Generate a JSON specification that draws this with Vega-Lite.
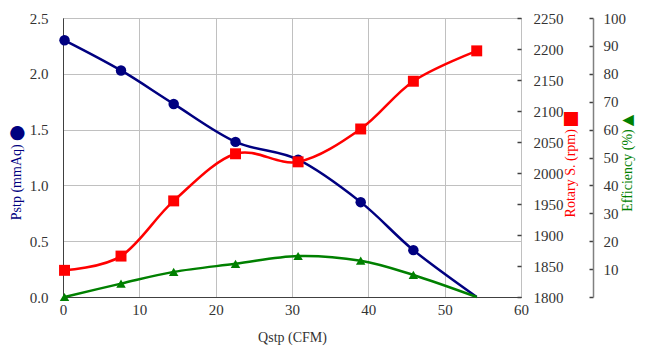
{
  "$schema": "https://vega.github.io/schema/vega-lite/v6.json",
  "width": 458,
  "height": 279,
  "autosize": {"type": "none"},
  "padding": {"left": 63, "top": 18, "right": 126, "bottom": 59},
  "background": "white",
  "config": {
    "font": "Liberation Serif",
    "view": {"stroke": "#404040", "strokeWidth": 1},
    "axis": {
      "labelFont": "Liberation Serif",
      "titleFont": "Liberation Serif",
      "labelFontSize": 15,
      "titleFontSize": 14,
      "titleFontWeight": "normal",
      "labelColor": "#333333",
      "titleColor": "#333333",
      "gridColor": "#c0c0c0",
      "gridWidth": 1,
      "domainColor": "#404040"
    }
  },
  "data": {
    "values": [
      {"q": 0.2, "pstp": 2.30, "rpm": 1843, "eff": 0.0, "mk": 1},
      {"q": 7.6, "pstp": 2.03, "rpm": 1866, "eff": 4.8, "mk": 1},
      {"q": 14.5, "pstp": 1.73, "rpm": 1955, "eff": 9.0, "mk": 1},
      {"q": 22.6, "pstp": 1.39, "rpm": 2031, "eff": 11.9, "mk": 1},
      {"q": 30.8, "pstp": 1.23, "rpm": 2018, "eff": 14.7, "mk": 1},
      {"q": 39.0, "pstp": 0.85, "rpm": 2071, "eff": 13.0, "mk": 1},
      {"q": 45.9, "pstp": 0.42, "rpm": 2148, "eff": 7.9, "mk": 1},
      {"q": 54.2, "pstp": 0.0, "rpm": 2197, "eff": 0.0, "mk": 0}
    ]
  },
  "encoding": {
    "x": {
      "field": "q",
      "type": "quantitative",
      "scale": {"domain": [0, 60], "nice": false},
      "axis": {
        "values": [0, 10, 20, 30, 40, 50, 60],
        "title": "Qstp (CFM)",
        "labelFont": "Liberation Serif",
        "titleFont": "Liberation Serif",
        "ticks": false,
        "grid": true,
        "labelPadding": 5,
        "titlePadding": 13,
        "labelFlush": false
      }
    }
  },
  "layer": [
    {
      "encoding": {
        "y": {
          "field": "pstp",
          "type": "quantitative",
          "scale": {"domain": [0, 2.5], "nice": false},
          "axis": {
            "orient": "left",
            "values": [0, 0.5, 1, 1.5, 2, 2.5],
            "format": ".1f",
            "labelFont": "Liberation Serif",
            "titleFont": "Liberation Serif",
            "ticks": false,
            "grid": true,
            "labelPadding": 15,
            "title": "Pstp (mmAq) ⬤",
            "titleColor": "#000080",
            "titlePadding": 6,
            "titleY": 154
          }
        }
      },
      "layer": [
        {"mark": {"type": "line", "interpolate": "cardinal", "color": "#000080", "strokeWidth": 2.5}},
        {"transform": [{"filter": "datum.mk == 1"}], "mark": {"type": "point", "shape": "circle", "filled": true, "opacity": 1, "size": 110, "color": "#000080"}}
      ]
    },
    {
      "encoding": {
        "y": {
          "field": "rpm",
          "type": "quantitative",
          "scale": {"domain": [1800, 2250], "nice": false},
          "axis": {
            "orient": "right",
            "values": [1800, 1850, 1900, 1950, 2000, 2050, 2100, 2150, 2200, 2250],
            "format": "d",
            "labelFont": "Liberation Serif",
            "titleFont": "Liberation Serif",
            "grid": false,
            "domain": false,
            "tickSize": -4,
            "tickWidth": 1.5,
            "tickColor": "#404040",
            "labelPadding": 16,
            "title": "Rotary S. (rpm) ⬛︎",
            "titleColor": "#ff0000",
            "titleAngle": 270,
            "titlePadding": 14,
            "titleY": 146
          }
        }
      },
      "layer": [
        {"mark": {"type": "line", "interpolate": "cardinal", "color": "#ff0000", "strokeWidth": 2.5}},
        {"mark": {"type": "point", "shape": "square", "filled": true, "opacity": 1, "size": 120, "color": "#ff0000"}}
      ]
    },
    {
      "layer": [
        {
          "mark": {"type": "line", "interpolate": "cardinal", "color": "#008000", "strokeWidth": 2.5},
          "encoding": {
            "y": {
              "field": "eff",
              "type": "quantitative",
              "scale": {"domain": [0, 100], "nice": false},
              "axis": {
                "orient": "right",
                "offset": 72,
                "values": [0, 10, 20, 30, 40, 50, 60, 70, 80, 90, 100],
                "labelExpr": "datum.value == 0 ? '' : datum.label",
                "labelFont": "Liberation Serif",
                "titleFont": "Liberation Serif",
                "grid": false,
                "domain": true,
                "domainColor": "#808080",
                "domainWidth": 1.5,
                "tickSize": -4,
                "tickWidth": 1.5,
                "tickColor": "#404040",
                "labelPadding": 14,
                "title": "Efficiency (%)",
                "titleColor": "#008000",
                "titleAngle": 270,
                "titlePadding": 9,
                "titleY": 152
              }
            }
          }
        },
        {
          "transform": [{"filter": "datum.mk == 1"}],
          "mark": {"type": "point", "shape": "triangle-up", "filled": true, "opacity": 1, "size": 90, "color": "#008000"},
          "encoding": {
            "y": {
              "field": "eff",
              "type": "quantitative",
              "scale": {"domain": [0, 100], "nice": false},
              "axis": {
                "orient": "right",
                "offset": 72,
                "labels": false,
                "ticks": false,
                "domain": false,
                "grid": false,
                "title": "▲",
                "titleFont": "DejaVu Sans",
                "titleFontSize": 15,
                "titleColor": "#008000",
                "titleAngle": 270,
                "titlePadding": 41,
                "titleY": 102
              }
            }
          }
        }
      ],
      "resolve": {"axis": {"y": "independent"}}
    }
  ],
  "resolve": {"scale": {"y": "independent"}}
}
